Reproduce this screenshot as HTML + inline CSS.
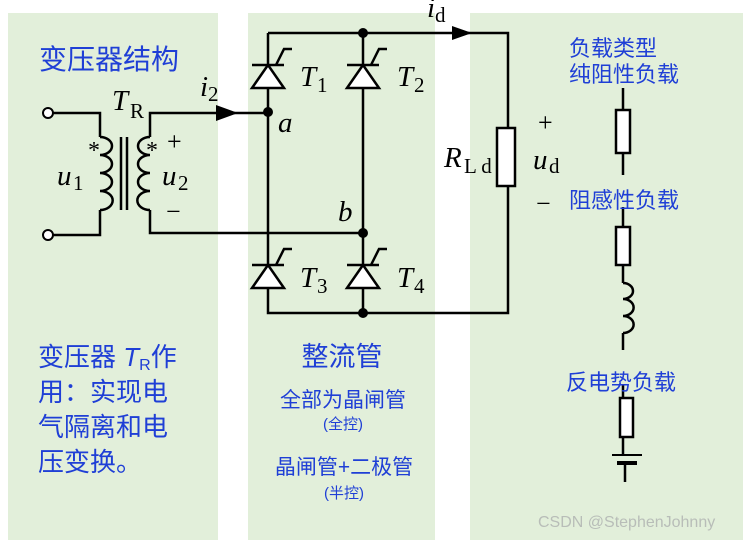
<!DOCTYPE html>
<html><head><meta charset="utf-8"><style>
body{margin:0;background:#fff;}
svg{display:block;}
.cj{font-family:"Liberation Sans","Noto Sans CJK SC",sans-serif;fill:#1f3fd6;}
.m{font-family:"Liberation Serif",serif;font-style:italic;fill:#000;}
.r{font-family:"Liberation Serif",serif;fill:#000;}
</style></head><body>
<svg width="749" height="540" viewBox="0 0 749 540" xmlns="http://www.w3.org/2000/svg">
<rect x="8" y="13" width="210" height="527" fill="#e2efda"/>
<rect x="248" y="13" width="187" height="527" fill="#e2efda"/>
<rect x="470" y="13" width="273" height="527" fill="#e2efda"/>
<g stroke="#000" stroke-width="2.5" fill="none">
<path d="M268 33 H508 V128 M508 186 V313 H268 V33"/>
<path d="M363 33 V313"/>
<rect x="497" y="128" width="18" height="58" fill="#fff"/>
<path d="M53 113 H100 V137 M53 235 H100 V210"/>
<path d="M100 137 a12 9 0 0 1 0 18 a12 9 0 0 1 0 18 a12 9 0 0 1 0 18 a12 9 0 0 1 0 19"/>
<path d="M121 137 V210 M127 137 V210"/>
<path d="M150 137 a12 9 0 0 0 0 18 a12 9 0 0 0 0 18 a12 9 0 0 0 0 18 a12 9 0 0 0 0 19"/>
<path d="M150 137 V113 H268 M150 210 V233 H363"/>
<path d="M623 88 V110 M623 153 V175 M623 207 V227 M623 265 V283 M623 333 V350 M623 385 V398 M623 437 V455 M625 463 V482"/>
<rect x="616" y="110" width="14" height="43" fill="#fff"/>
<rect x="616" y="227" width="14" height="38" fill="#fff"/>
<rect x="620" y="398" width="13" height="39" fill="#fff"/>
<path d="M623 283 a10 8 0 0 1 0 16 a10 8 0 0 1 0 17 a10 8 0 0 1 0 17"/>
<path d="M612 455 H642" stroke-width="2"/>
<path d="M617 463 H637" stroke-width="4"/>
</g>
<circle cx="48" cy="113" r="5" fill="#fff" stroke="#000" stroke-width="2"/>
<circle cx="48" cy="235" r="5" fill="#fff" stroke="#000" stroke-width="2"/>
<path d="M216 105 L238 113 L216 121Z" fill="#000"/>
<path d="M452 26 L472 33 L452 40Z" fill="#000"/>
<g fill="#000"><circle cx="363" cy="33" r="5"/><circle cx="268" cy="112" r="5"/><circle cx="363" cy="233" r="5"/><circle cx="363" cy="313" r="5"/></g>
<g stroke="#000" stroke-width="2.5" fill="#fff">
<g id="t"><path d="M252 88 H284 L268 65Z"/><path d="M252 65 H284 M276 65 L284 49 H292" fill="none"/></g>
<use href="#t" x="95"/>
<use href="#t" y="200"/>
<use href="#t" x="95" y="200"/>
</g>
<g font-size="29">
<text class="m" x="300" y="86">T</text><text class="r" x="317" y="92" font-size="21">1</text>
<text class="m" x="397" y="86">T</text><text class="r" x="414" y="92" font-size="21">2</text>
<text class="m" x="300" y="287">T</text><text class="r" x="317" y="293" font-size="21">3</text>
<text class="m" x="397" y="287">T</text><text class="r" x="414" y="293" font-size="21">4</text>
<text class="m" x="278" y="132">a</text>
<text class="m" x="338" y="221">b</text>
<text class="m" x="112" y="110">T</text><text class="r" x="130" y="118" font-size="21">R</text>
<text class="m" x="200" y="96">i</text><text class="r" x="208" y="101" font-size="21">2</text>
<text class="m" x="427" y="17">i</text><text class="r" x="435" y="22" font-size="21">d</text>
<text class="m" x="57" y="185">u</text><text class="r" x="73" y="190" font-size="21">1</text>
<text class="m" x="162" y="185">u</text><text class="r" x="178" y="190" font-size="21">2</text>
<text class="m" x="444" y="167">R</text><text class="r" x="464" y="173" font-size="21">L d</text>
<text class="m" x="533" y="169">u</text><text class="r" x="549" y="173" font-size="21">d</text>
<text class="r" x="88" y="158" font-size="24">*</text>
<text class="r" x="146" y="158" font-size="24">*</text>
<text class="r" x="167" y="150" font-size="26">+</text>
<text class="r" x="166" y="220" font-size="26">−</text>
<text class="r" x="538" y="131" font-size="26">+</text>
<text class="r" x="536" y="212" font-size="26">−</text>
</g>
<text class="cj" x="39" y="69" font-size="28">变压器结构</text>
<g class="cj" font-size="26">
<text x="38" y="366">变压器 <tspan font-style="italic" font-family="Liberation Sans">T</tspan><tspan font-size="16" dy="4">R</tspan><tspan dy="-4">作</tspan></text>
<text x="38" y="401">用：实现电</text>
<text x="38" y="436">气隔离和电</text>
<text x="38" y="471">压变换。</text>
</g>
<text class="cj" x="342" y="366" font-size="27" text-anchor="middle">整流管</text>
<text class="cj" x="343" y="407" font-size="21" text-anchor="middle">全部为晶闸管</text>
<text class="cj" x="343" y="429" font-size="15" text-anchor="middle">(全控)</text>
<text class="cj" x="344" y="474" font-size="21" text-anchor="middle">晶闸管+二极管</text>
<text class="cj" x="344" y="498" font-size="15" text-anchor="middle">(半控)</text>
<g class="cj" font-size="22">
<text x="569" y="56">负载类型</text>
<text x="569" y="82">纯阻性负载</text>
<text x="569" y="208">阻感性负载</text>
<text x="566" y="390">反电势负载</text>
</g>
<text x="538" y="527" font-size="16" fill="#b8bdb8" font-family="Liberation Sans,sans-serif">CSDN @StephenJohnny</text>
</svg>
</body></html>
